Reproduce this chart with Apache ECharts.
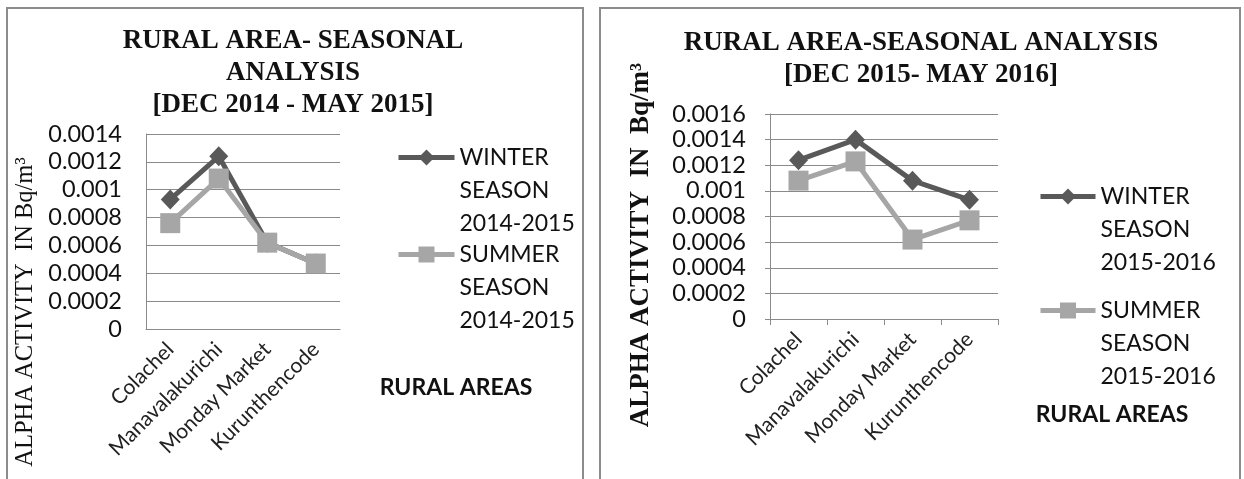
<!DOCTYPE html>
<html>
<head>
<meta charset="utf-8">
<script src="https://cdn.jsdelivr.net/npm/echarts@6/dist/echarts.min.js"></script>
<style>
html,body{margin:0;padding:0;background:#fff;}
#c{width:1244px;height:479px;}
</style>
</head>
<body>
<div id="c"></div>
<script>
// ---- data ----
const categories = ['Colachel', 'Manavalakurichi', 'Monday Market', 'Kurunthencode'];
const winter1415 = [0.00093, 0.00124, 0.00062, 0.00047];
const summer1415 = [0.00076, 0.00108, 0.00062, 0.00047];
const winter1516 = [0.00124, 0.0014, 0.00108, 0.00093];
const summer1516 = [0.00108, 0.00123, 0.00062, 0.00077];
const yMax1 = 0.0014;
const yMax2 = 0.0016;
const yStep = 0.0002;
const seriesNames = ['WINTER SEASON 2014-2015', 'SUMMER SEASON 2014-2015', 'WINTER SEASON 2015-2016', 'SUMMER SEASON 2015-2016'];
const titles = ['RURAL AREA- SEASONAL\nANALYSIS\n[DEC 2014 - MAY 2015]', 'RURAL AREA-SEASONAL ANALYSIS\n[DEC 2015- MAY 2016]'];
const yNames = ['ALPHA ACTIVITY  IN Bq/m\u00B3', 'ALPHA ACTIVITY  IN  Bq/m\u00B3'];
const xName = 'RURAL AREAS';

const DARK = '#595959', LIGHT = '#a6a6a6', GRIDC = '#8a8a8a';
const SANS = 'Lato';
const SERIF = 'Liberation Serif';

const chart = echarts.init(document.getElementById('c'), null, {renderer: 'canvas'});

function legendFor(name, left, top, itemWidth) {
  return {
    data: [name], left: left, top: top, orient: 'vertical', padding: 0,
    itemWidth: itemWidth, itemHeight: 20, selectedMode: false,
    lineStyle: {width: 5},
    formatter: n => '\n\n' + n.split(' ').join('\n'),
    textStyle: {fontFamily: SANS, fontSize: 23, lineHeight: 33, color: '#111'}
  };
}

function xAxisFor(gi, ticks) {
  return {
    type: 'category', gridIndex: gi, data: categories, boundaryGap: true,
    axisLine: {show: true, lineStyle: {color: GRIDC, width: 1}},
    axisTick: {show: ticks, alignWithLabel: false, length: 6, lineStyle: {color: GRIDC}},
    axisLabel: {interval: 0, rotate: 45, margin: 17, fontFamily: SANS, fontSize: 21, color: '#222'}
  };
}
function yAxisFor(gi, max, ticks) {
  return {
    type: 'value', gridIndex: gi, min: 0, max: max, interval: yStep,
    axisLine: {show: true, lineStyle: {color: GRIDC, width: 1}},
    axisTick: {show: ticks, length: 5, lineStyle: {color: GRIDC}},
    splitLine: {show: true, lineStyle: {color: GRIDC, width: 1}},
    axisLabel: {margin: 24, fontFamily: SANS, fontSize: 23.5, color: '#111'}
  };
}
function lineSeries(name, gi, data, color, symbol, size) {
  return {
    name: name, type: 'line', xAxisIndex: gi, yAxisIndex: gi, data: data,
    symbol: symbol, symbolSize: size, showSymbol: true,
    lineStyle: {color: color, width: 5},
    itemStyle: {color: color},
    emphasis: {disabled: true}, animation: false
  };
}

const option = {
  animation: false,
  backgroundColor: '#fff',
  title: [
    {text: titles[0], left: 293, top: 25, textAlign: 'center', padding: 0,
     textStyle: {fontFamily: SERIF, fontWeight: 'bold', fontSize: 27, lineHeight: 32, color: '#111'}},
    {text: titles[1], left: 921, top: 27, textAlign: 'center', padding: 0,
     textStyle: {fontFamily: SERIF, fontWeight: 'bold', fontSize: 27, lineHeight: 32, color: '#111'}}
  ],
  legend: [
    legendFor(seriesNames[0], 396, 75, 56),
    legendFor(seriesNames[1], 396, 172, 56),
    legendFor(seriesNames[2], 1038, 114, 55),
    legendFor(seriesNames[3], 1038, 228, 55)
  ],
  grid: [
    {left: 146, top: 134, width: 194, height: 195},
    {left: 770, top: 114, width: 228, height: 205}
  ],
  xAxis: [xAxisFor(0, false), xAxisFor(1, true)],
  yAxis: [yAxisFor(0, yMax1, false), yAxisFor(1, yMax2, true)],
  series: [
    lineSeries(seriesNames[0], 0, winter1415, DARK, 'diamond', [19, 20]),
    lineSeries(seriesNames[1], 0, summer1415, LIGHT, 'rect', 20),
    lineSeries(seriesNames[2], 1, winter1516, DARK, 'diamond', [19, 20]),
    lineSeries(seriesNames[3], 1, summer1516, LIGHT, 'rect', 20)
  ],
  graphic: [
    {type: 'rect', shape: {x: 7, y: 8, width: 576, height: 500}, style: {fill: 'none', stroke: '#8c8c8c', lineWidth: 2}, silent: true},
    {type: 'rect', shape: {x: 600, y: 8, width: 640, height: 500}, style: {fill: 'none', stroke: '#8c8c8c', lineWidth: 2}, silent: true},
    {type: 'text', x: 26, y: 312, rotation: Math.PI / 2, silent: true,
     style: {text: yNames[0], fontFamily: SERIF, fontSize: 24.5, fontWeight: 'normal', fill: '#111', align: 'center', verticalAlign: 'middle'}},
    {type: 'text', x: 641, y: 245, rotation: Math.PI / 2, silent: true,
     style: {text: yNames[1], fontFamily: SERIF, fontSize: 27, fontWeight: 'bold', fill: '#111', align: 'center', verticalAlign: 'middle'}},
    {type: 'text', x: 456, y: 388, silent: true,
     style: {text: xName, fontFamily: SANS, fontSize: 23, fontWeight: 'bold', fill: '#111', align: 'center', verticalAlign: 'middle'}},
    {type: 'text', x: 1112, y: 415, silent: true,
     style: {text: xName, fontFamily: SANS, fontSize: 23, fontWeight: 'bold', fill: '#111', align: 'center', verticalAlign: 'middle'}}
  ]
};
chart.setOption(option);
</script>
</body>
</html>
